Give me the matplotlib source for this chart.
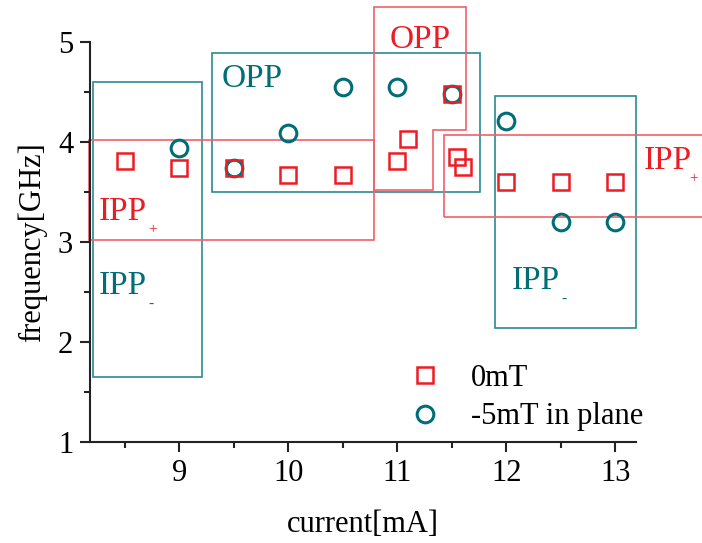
import matplotlib
matplotlib.use("Agg")
import matplotlib.pyplot as plt
from matplotlib.patches import Rectangle, Polygon

plt.rcParams["font.family"] = ["Liberation Serif", "DejaVu Serif"]

RED = "#ec1c24"
TEAL = "#006d77"
RED_BOX = "#f0606a"
TEAL_BOX = "#2b8a93"

# 0 mT series
x_0mt = [8.5, 9.0, 9.5, 10.0, 10.5, 11.0, 11.1, 11.5, 11.55, 11.6, 12.0, 12.5, 13.0]
f_0mt = [3.81, 3.74, 3.74, 3.67, 3.67, 3.81, 4.03, 4.48, 3.85, 3.75, 3.60, 3.60, 3.60]

# -5 mT in plane series
x_5mt = [9.0, 9.5, 10.0, 10.5, 11.0, 11.5, 12.0, 12.5, 13.0]
f_5mt = [3.94, 3.74, 4.09, 4.55, 4.55, 4.48, 4.21, 3.20, 3.20]

# mode regions: (x0, y0, x1, y1)
teal_boxes = [(8.21, 1.65, 9.21, 4.60), (9.30, 3.50, 11.76, 4.89), (11.90, 2.14, 13.19, 4.46)]
red_boxes = [(8.17, 3.02, 10.79, 4.02), (11.43, 3.25, 13.85, 4.07)]
red_opp_x = [10.79, 11.63, 11.63, 11.33, 11.33, 10.79]
red_opp_y = [5.35, 5.35, 4.12, 4.12, 3.52, 3.52]

labels = [
    ("OPP", "", 9.39, 4.63, TEAL),
    ("OPP", "", 10.93, 5.02, RED),
    ("IPP", "+", 8.26, 3.30, RED),
    ("IPP", "-", 8.26, 2.56, TEAL),
    ("IPP", "+", 13.26, 3.81, RED),
    ("IPP", "-", 12.05, 2.61, TEAL),
]

fig = plt.figure(figsize=(7.02, 5.43), dpi=100)
ax = fig.add_axes([0.128, 0.186, 0.778, 0.737])

for x0, y0, x1, y1 in teal_boxes:
    ax.add_patch(Rectangle((x0, y0), x1 - x0, y1 - y0, fill=False, ec=TEAL_BOX, lw=1.2, clip_on=False))
for x0, y0, x1, y1 in red_boxes:
    ax.add_patch(Rectangle((x0, y0), x1 - x0, y1 - y0, fill=False, ec=RED_BOX, lw=1.2, clip_on=False))
ax.add_patch(Polygon(list(zip(red_opp_x, red_opp_y)), closed=True, fill=False, ec=RED_BOX, lw=1.2, clip_on=False))

ax.plot(x_5mt, f_5mt, "o", ms=12, mfc="none", mec=TEAL, mew=2.2, ls="none", label="-5mT in plane", clip_on=False)
ax.plot(x_0mt, f_0mt, "s", ms=11, mfc="none", mec=RED, mew=1.8, ls="none", label="0mT", clip_on=False)

for main, sub, x, y, c in labels:
    ax.text(x, y, main, color=c, fontsize=24, va="center", ha="left")
    if sub:
        # subscript sits just after the text; keep the far-right one inside the figure
        dx = 33 if x > 13 else 36
        ax.annotate(sub, xy=(x, y), xytext=(dx, -13), textcoords="offset points",
                    color=c, fontsize=11, va="center", ha="left", annotation_clip=False)

ax.set_xlim(8.18, 13.19)
ax.set_ylim(1, 5)
ax.set_xticks([9, 10, 11, 12, 13])
ax.set_xticks([8.5, 9.5, 10.5, 11.5, 12.5], minor=True)
ax.set_yticks([1, 2, 3, 4, 5])
ax.set_yticks([1.5, 2.5, 3.5, 4.5], minor=True)
ax.tick_params(which="major", direction="out", length=7, width=1.5, labelsize=22, pad=5, color="#222222")
ax.tick_params(which="minor", direction="out", length=4, width=1.5, color="#222222")
for side in ("top", "right"):
    ax.spines[side].set_visible(False)
for side in ("left", "bottom"):
    ax.spines[side].set_linewidth(1.5)
    ax.spines[side].set_color("#222222")

ax.set_xlabel("current[mA]", fontsize=22, labelpad=16)
ax.set_ylabel("frequency[GHz]", fontsize=22, labelpad=8)

handles, names = ax.get_legend_handles_labels()
ax.legend(handles[::-1], names[::-1], loc="lower left", bbox_to_anchor=(0.53, -0.042),
          frameon=False, fontsize=22, handletextpad=0.9, labelspacing=0.3,
          handlelength=1.2, numpoints=1)

fig.savefig("out.png", dpi=100)
